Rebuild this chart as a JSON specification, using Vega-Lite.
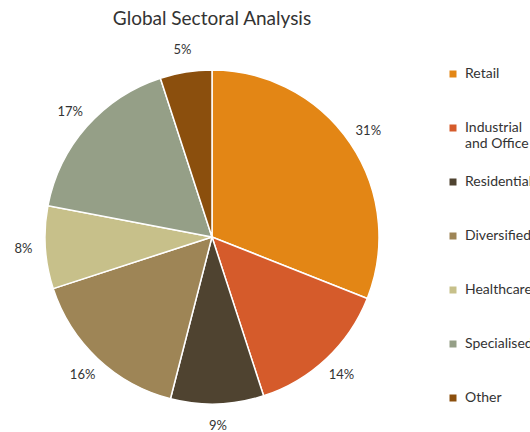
{
  "$schema": "https://vega.github.io/schema/vega-lite/v6.json",
  "autosize": "none",
  "width": 424,
  "height": 334,
  "padding": {"left": 0, "top": 70, "right": 106, "bottom": 28},
  "background": "white",
  "title": {"text": "Global Sectoral Analysis", "font": "Lato", "fontSize": 19, "fontWeight": "normal", "color": "#333333", "anchor": "middle", "offset": 15},
  "data": {"values": [
    {"sector": "Retail", "share": 0.31, "idx": 1},
    {"sector": "Industrial and Office", "share": 0.14, "idx": 2},
    {"sector": "Residential", "share": 0.09, "idx": 3},
    {"sector": "Diversified", "share": 0.16, "idx": 4},
    {"sector": "Healthcare", "share": 0.08, "idx": 5},
    {"sector": "Specialised", "share": 0.17, "idx": 6},
    {"sector": "Other", "share": 0.05, "idx": 7}
  ]},
  "encoding": {
    "theta": {"field": "share", "type": "quantitative", "stack": true},
    "order": {"field": "idx", "type": "quantitative"}
  },
  "layer": [
    {
      "mark": {"type": "arc", "outerRadius": 167, "stroke": "white", "strokeWidth": 1.5},
      "encoding": {
        "color": {
          "field": "sector", "type": "nominal",
          "scale": {
            "domain": ["Retail", "Industrial and Office", "Residential", "Diversified", "Healthcare", "Specialised", "Other"],
            "range": ["#E38615", "#D55B2B", "#4F4330", "#9E8556", "#C7C08A", "#959F87", "#8B4F0D"]
          },
          "legend": {
            "title": null,
            "orient": "none",
            "legendX": 446,
            "legendY": -3,
            "symbolType": "square",
            "symbolSize": 49,
            "symbolStrokeWidth": 0,
            "labelFont": "Lato",
            "labelFontSize": 14,
            "labelColor": "#333333",
            "labelOffset": 5,
            "labelLimit": 200,
            "rowPadding": 24,
            "gridAlign": "all",
            "labelExpr": "datum.label == 'Industrial and Office' ? ['Industrial', 'and Office'] : datum.label"
          }
        }
      }
    },
    {
      "mark": {"type": "text", "radius": 189, "font": "Lato", "fontSize": 13, "color": "#333333"},
      "encoding": {
        "text": {"field": "share", "type": "quantitative", "format": ".0%"}
      }
    }
  ]
}
